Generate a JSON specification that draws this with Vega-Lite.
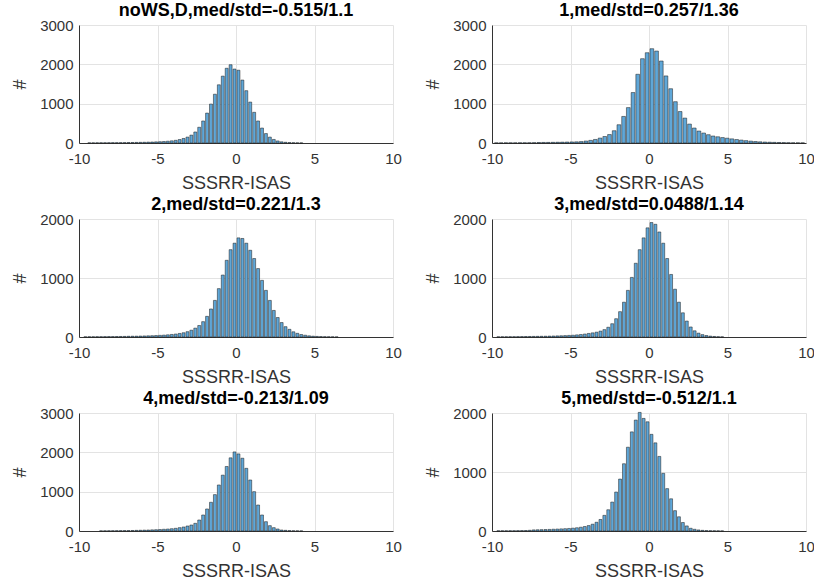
{
  "$schema": "https://vega.github.io/schema/vega-lite/v6.json",
  "padding": {"left": 11, "top": 2, "right": 2, "bottom": 2},
  "background": "#ffffff",
  "datasets": {
    "p1": [
      {"lo":-9.5,"hi":-9.25,"n":4},{"lo":-9.25,"hi":-9,"n":4},{"lo":-9,"hi":-8.75,"n":5},{"lo":-8.75,"hi":-8.5,"n":6},
      {"lo":-8.5,"hi":-8.25,"n":6},{"lo":-8.25,"hi":-8,"n":7},{"lo":-8,"hi":-7.75,"n":8},{"lo":-7.75,"hi":-7.5,"n":8},
      {"lo":-7.5,"hi":-7.25,"n":9},{"lo":-7.25,"hi":-7,"n":10},{"lo":-7,"hi":-6.75,"n":12},{"lo":-6.75,"hi":-6.5,"n":13},
      {"lo":-6.5,"hi":-6.25,"n":15},{"lo":-6.25,"hi":-6,"n":17},{"lo":-6,"hi":-5.75,"n":19},{"lo":-5.75,"hi":-5.5,"n":22},
      {"lo":-5.5,"hi":-5.25,"n":25},{"lo":-5.25,"hi":-5,"n":29},{"lo":-5,"hi":-4.75,"n":33},{"lo":-4.75,"hi":-4.5,"n":38},
      {"lo":-4.5,"hi":-4.25,"n":45},{"lo":-4.25,"hi":-4,"n":55},{"lo":-4,"hi":-3.75,"n":68},{"lo":-3.75,"hi":-3.5,"n":88},
      {"lo":-3.5,"hi":-3.25,"n":115},{"lo":-3.25,"hi":-3,"n":150},{"lo":-3,"hi":-2.75,"n":200},{"lo":-2.75,"hi":-2.5,"n":280},
      {"lo":-2.5,"hi":-2.25,"n":400},{"lo":-2.25,"hi":-2,"n":560},{"lo":-2,"hi":-1.75,"n":760},{"lo":-1.75,"hi":-1.5,"n":990},
      {"lo":-1.5,"hi":-1.25,"n":1240},{"lo":-1.25,"hi":-1,"n":1480},{"lo":-1,"hi":-0.75,"n":1700},{"lo":-0.75,"hi":-0.5,"n":1900},
      {"lo":-0.5,"hi":-0.25,"n":1990},{"lo":-0.25,"hi":0,"n":1880},{"lo":0,"hi":0.25,"n":1850},{"lo":0.25,"hi":0.5,"n":1600},
      {"lo":0.5,"hi":0.75,"n":1330},{"lo":0.75,"hi":1,"n":1040},{"lo":1,"hi":1.25,"n":780},{"lo":1.25,"hi":1.5,"n":560},
      {"lo":1.5,"hi":1.75,"n":380},{"lo":1.75,"hi":2,"n":240},{"lo":2,"hi":2.25,"n":150},{"lo":2.25,"hi":2.5,"n":90},
      {"lo":2.5,"hi":2.75,"n":52},{"lo":2.75,"hi":3,"n":30},{"lo":3,"hi":3.25,"n":18},{"lo":3.25,"hi":3.5,"n":11},
      {"lo":3.5,"hi":3.75,"n":7},{"lo":3.75,"hi":4,"n":4},{"lo":4,"hi":4.25,"n":3}
    ],
    "p2": [
      {"lo":-9.9,"hi":-9.6,"n":3},{"lo":-9.6,"hi":-9.3,"n":3},{"lo":-9.3,"hi":-9,"n":4},{"lo":-9,"hi":-8.7,"n":4},
      {"lo":-8.7,"hi":-8.4,"n":4},{"lo":-8.4,"hi":-8.1,"n":5},{"lo":-8.1,"hi":-7.8,"n":5},{"lo":-7.8,"hi":-7.5,"n":6},
      {"lo":-7.5,"hi":-7.2,"n":8},{"lo":-7.2,"hi":-6.9,"n":12},{"lo":-6.9,"hi":-6.6,"n":14},{"lo":-6.6,"hi":-6.3,"n":15},
      {"lo":-6.3,"hi":-6,"n":17},{"lo":-6,"hi":-5.7,"n":19},{"lo":-5.7,"hi":-5.4,"n":21},{"lo":-5.4,"hi":-5.1,"n":24},
      {"lo":-5.1,"hi":-4.8,"n":27},{"lo":-4.8,"hi":-4.5,"n":30},{"lo":-4.5,"hi":-4.2,"n":36},{"lo":-4.2,"hi":-3.9,"n":50},
      {"lo":-3.9,"hi":-3.6,"n":66},{"lo":-3.6,"hi":-3.3,"n":90},{"lo":-3.3,"hi":-3,"n":125},{"lo":-3,"hi":-2.7,"n":165},
      {"lo":-2.7,"hi":-2.4,"n":215},{"lo":-2.4,"hi":-2.1,"n":312},{"lo":-2.1,"hi":-1.8,"n":464},{"lo":-1.8,"hi":-1.5,"n":675},
      {"lo":-1.5,"hi":-1.2,"n":900},{"lo":-1.2,"hi":-0.9,"n":1283},{"lo":-0.9,"hi":-0.6,"n":1747},{"lo":-0.6,"hi":-0.3,"n":2143},
      {"lo":-0.3,"hi":0,"n":2295},{"lo":0,"hi":0.3,"n":2397},{"lo":0.3,"hi":0.6,"n":2337},{"lo":0.6,"hi":0.9,"n":2084},
      {"lo":0.9,"hi":1.2,"n":1705},{"lo":1.2,"hi":1.5,"n":1380},{"lo":1.5,"hi":1.8,"n":1050},{"lo":1.8,"hi":2.1,"n":800},
      {"lo":2.1,"hi":2.4,"n":633},{"lo":2.4,"hi":2.7,"n":481},{"lo":2.7,"hi":3,"n":380},{"lo":3,"hi":3.3,"n":304},
      {"lo":3.3,"hi":3.6,"n":253},{"lo":3.6,"hi":3.9,"n":211},{"lo":3.9,"hi":4.2,"n":177},{"lo":4.2,"hi":4.5,"n":158},
      {"lo":4.5,"hi":4.8,"n":138},{"lo":4.8,"hi":5.1,"n":122},{"lo":5.1,"hi":5.4,"n":105},{"lo":5.4,"hi":5.7,"n":88},
      {"lo":5.7,"hi":6,"n":74},{"lo":6,"hi":6.3,"n":60},{"lo":6.3,"hi":6.6,"n":48},{"lo":6.6,"hi":6.9,"n":38},
      {"lo":6.9,"hi":7.2,"n":30},{"lo":7.2,"hi":7.5,"n":24},{"lo":7.5,"hi":7.8,"n":20},{"lo":7.8,"hi":8.1,"n":16},
      {"lo":8.1,"hi":8.4,"n":13},{"lo":8.4,"hi":8.7,"n":10},{"lo":8.7,"hi":9,"n":7},{"lo":9,"hi":9.3,"n":5},
      {"lo":9.3,"hi":9.6,"n":4},{"lo":9.6,"hi":9.9,"n":3}
    ],
    "p3": [
      {"lo":-9.75,"hi":-9.5,"n":3},{"lo":-9.5,"hi":-9.25,"n":4},{"lo":-9.25,"hi":-9,"n":4},{"lo":-9,"hi":-8.75,"n":5},
      {"lo":-8.75,"hi":-8.5,"n":5},{"lo":-8.5,"hi":-8.25,"n":6},{"lo":-8.25,"hi":-8,"n":7},{"lo":-8,"hi":-7.75,"n":7},
      {"lo":-7.75,"hi":-7.5,"n":8},{"lo":-7.5,"hi":-7.25,"n":9},{"lo":-7.25,"hi":-7,"n":10},{"lo":-7,"hi":-6.75,"n":12},
      {"lo":-6.75,"hi":-6.5,"n":13},{"lo":-6.5,"hi":-6.25,"n":14},{"lo":-6.25,"hi":-6,"n":16},{"lo":-6,"hi":-5.75,"n":18},
      {"lo":-5.75,"hi":-5.5,"n":20},{"lo":-5.5,"hi":-5.25,"n":22},{"lo":-5.25,"hi":-5,"n":25},{"lo":-5,"hi":-4.75,"n":28},
      {"lo":-4.75,"hi":-4.5,"n":32},{"lo":-4.5,"hi":-4.25,"n":37},{"lo":-4.25,"hi":-4,"n":43},{"lo":-4,"hi":-3.75,"n":50},
      {"lo":-3.75,"hi":-3.5,"n":60},{"lo":-3.5,"hi":-3.25,"n":72},{"lo":-3.25,"hi":-3,"n":90},{"lo":-3,"hi":-2.75,"n":115},
      {"lo":-2.75,"hi":-2.5,"n":150},{"lo":-2.5,"hi":-2.25,"n":195},{"lo":-2.25,"hi":-2,"n":260},{"lo":-2,"hi":-1.75,"n":350},
      {"lo":-1.75,"hi":-1.5,"n":475},{"lo":-1.5,"hi":-1.25,"n":620},{"lo":-1.25,"hi":-1,"n":820},{"lo":-1,"hi":-0.75,"n":1050},
      {"lo":-0.75,"hi":-0.5,"n":1300},{"lo":-0.5,"hi":-0.25,"n":1480},{"lo":-0.25,"hi":0,"n":1590},{"lo":0,"hi":0.25,"n":1680},
      {"lo":0.25,"hi":0.5,"n":1670},{"lo":0.5,"hi":0.75,"n":1590},{"lo":0.75,"hi":1,"n":1470},{"lo":1,"hi":1.25,"n":1330},
      {"lo":1.25,"hi":1.5,"n":1160},{"lo":1.5,"hi":1.75,"n":960},{"lo":1.75,"hi":2,"n":790},{"lo":2,"hi":2.25,"n":620},
      {"lo":2.25,"hi":2.5,"n":450},{"lo":2.5,"hi":2.75,"n":330},{"lo":2.75,"hi":3,"n":245},{"lo":3,"hi":3.25,"n":175},
      {"lo":3.25,"hi":3.5,"n":130},{"lo":3.5,"hi":3.75,"n":88},{"lo":3.75,"hi":4,"n":62},{"lo":4,"hi":4.25,"n":42},
      {"lo":4.25,"hi":4.5,"n":30},{"lo":4.5,"hi":4.75,"n":20},{"lo":4.75,"hi":5,"n":14},{"lo":5,"hi":5.25,"n":10},
      {"lo":5.25,"hi":5.5,"n":7},{"lo":5.5,"hi":5.75,"n":5},{"lo":5.75,"hi":6,"n":4},{"lo":6,"hi":6.25,"n":3},
      {"lo":6.25,"hi":6.5,"n":2}
    ],
    "p4": [
      {"lo":-9.75,"hi":-9.5,"n":3},{"lo":-9.5,"hi":-9.25,"n":4},{"lo":-9.25,"hi":-9,"n":4},{"lo":-9,"hi":-8.75,"n":5},
      {"lo":-8.75,"hi":-8.5,"n":5},{"lo":-8.5,"hi":-8.25,"n":6},{"lo":-8.25,"hi":-8,"n":7},{"lo":-8,"hi":-7.75,"n":8},
      {"lo":-7.75,"hi":-7.5,"n":9},{"lo":-7.5,"hi":-7.25,"n":10},{"lo":-7.25,"hi":-7,"n":11},{"lo":-7,"hi":-6.75,"n":12},
      {"lo":-6.75,"hi":-6.5,"n":13},{"lo":-6.5,"hi":-6.25,"n":15},{"lo":-6.25,"hi":-6,"n":17},{"lo":-6,"hi":-5.75,"n":19},
      {"lo":-5.75,"hi":-5.5,"n":21},{"lo":-5.5,"hi":-5.25,"n":24},{"lo":-5.25,"hi":-5,"n":27},{"lo":-5,"hi":-4.75,"n":30},
      {"lo":-4.75,"hi":-4.5,"n":36},{"lo":-4.5,"hi":-4.25,"n":42},{"lo":-4.25,"hi":-4,"n":50},{"lo":-4,"hi":-3.75,"n":60},
      {"lo":-3.75,"hi":-3.5,"n":70},{"lo":-3.5,"hi":-3.25,"n":82},{"lo":-3.25,"hi":-3,"n":100},{"lo":-3,"hi":-2.75,"n":125},
      {"lo":-2.75,"hi":-2.5,"n":165},{"lo":-2.5,"hi":-2.25,"n":225},{"lo":-2.25,"hi":-2,"n":310},{"lo":-2,"hi":-1.75,"n":430},
      {"lo":-1.75,"hi":-1.5,"n":590},{"lo":-1.5,"hi":-1.25,"n":790},{"lo":-1.25,"hi":-1,"n":1010},{"lo":-1,"hi":-0.75,"n":1250},
      {"lo":-0.75,"hi":-0.5,"n":1480},{"lo":-0.5,"hi":-0.25,"n":1680},{"lo":-0.25,"hi":0,"n":1850},{"lo":0,"hi":0.25,"n":1940},
      {"lo":0.25,"hi":0.5,"n":1910},{"lo":0.5,"hi":0.75,"n":1780},{"lo":0.75,"hi":1,"n":1590},{"lo":1,"hi":1.25,"n":1330},
      {"lo":1.25,"hi":1.5,"n":1060},{"lo":1.5,"hi":1.75,"n":810},{"lo":1.75,"hi":2,"n":590},{"lo":2,"hi":2.25,"n":410},
      {"lo":2.25,"hi":2.5,"n":270},{"lo":2.5,"hi":2.75,"n":170},{"lo":2.75,"hi":3,"n":105},{"lo":3,"hi":3.25,"n":65},
      {"lo":3.25,"hi":3.5,"n":40},{"lo":3.5,"hi":3.75,"n":25},{"lo":3.75,"hi":4,"n":15},{"lo":4,"hi":4.25,"n":9},
      {"lo":4.25,"hi":4.5,"n":5},{"lo":4.5,"hi":4.75,"n":3}
    ],
    "p5": [
      {"lo":-8.75,"hi":-8.5,"n":4},{"lo":-8.5,"hi":-8.25,"n":5},{"lo":-8.25,"hi":-8,"n":6},{"lo":-8,"hi":-7.75,"n":7},
      {"lo":-7.75,"hi":-7.5,"n":8},{"lo":-7.5,"hi":-7.25,"n":9},{"lo":-7.25,"hi":-7,"n":10},{"lo":-7,"hi":-6.75,"n":11},
      {"lo":-6.75,"hi":-6.5,"n":13},{"lo":-6.5,"hi":-6.25,"n":16},{"lo":-6.25,"hi":-6,"n":19},{"lo":-6,"hi":-5.75,"n":22},
      {"lo":-5.75,"hi":-5.5,"n":25},{"lo":-5.5,"hi":-5.25,"n":29},{"lo":-5.25,"hi":-5,"n":33},{"lo":-5,"hi":-4.75,"n":38},
      {"lo":-4.75,"hi":-4.5,"n":44},{"lo":-4.5,"hi":-4.25,"n":50},{"lo":-4.25,"hi":-4,"n":58},{"lo":-4,"hi":-3.75,"n":68},
      {"lo":-3.75,"hi":-3.5,"n":85},{"lo":-3.5,"hi":-3.25,"n":102},{"lo":-3.25,"hi":-3,"n":127},{"lo":-3,"hi":-2.75,"n":152},
      {"lo":-2.75,"hi":-2.5,"n":195},{"lo":-2.5,"hi":-2.25,"n":280},{"lo":-2.25,"hi":-2,"n":407},{"lo":-2,"hi":-1.75,"n":560},
      {"lo":-1.75,"hi":-1.5,"n":730},{"lo":-1.5,"hi":-1.25,"n":925},{"lo":-1.25,"hi":-1,"n":1170},{"lo":-1,"hi":-0.75,"n":1420},
      {"lo":-0.75,"hi":-0.5,"n":1640},{"lo":-0.5,"hi":-0.25,"n":1860},{"lo":-0.25,"hi":0,"n":2010},{"lo":0,"hi":0.25,"n":1960},
      {"lo":0.25,"hi":0.5,"n":1850},{"lo":0.5,"hi":0.75,"n":1593},{"lo":0.75,"hi":1,"n":1297},{"lo":1,"hi":1.25,"n":1000},
      {"lo":1.25,"hi":1.5,"n":661},{"lo":1.5,"hi":1.75,"n":407},{"lo":1.75,"hi":2,"n":237},{"lo":2,"hi":2.25,"n":136},
      {"lo":2.25,"hi":2.5,"n":85},{"lo":2.5,"hi":2.75,"n":51},{"lo":2.75,"hi":3,"n":25},{"lo":3,"hi":3.25,"n":17},
      {"lo":3.25,"hi":3.5,"n":10},{"lo":3.5,"hi":3.75,"n":6},{"lo":3.75,"hi":4,"n":4},{"lo":4,"hi":4.25,"n":3}
    ],
    "p6": [
      {"lo":-9.75,"hi":-9.5,"n":4},{"lo":-9.5,"hi":-9.25,"n":4},{"lo":-9.25,"hi":-9,"n":4},{"lo":-9,"hi":-8.75,"n":5},
      {"lo":-8.75,"hi":-8.5,"n":5},{"lo":-8.5,"hi":-8.25,"n":6},{"lo":-8.25,"hi":-8,"n":7},{"lo":-8,"hi":-7.75,"n":8},
      {"lo":-7.75,"hi":-7.5,"n":12},{"lo":-7.5,"hi":-7.25,"n":19},{"lo":-7.25,"hi":-7,"n":21},{"lo":-7,"hi":-6.75,"n":23},
      {"lo":-6.75,"hi":-6.5,"n":25},{"lo":-6.5,"hi":-6.25,"n":27},{"lo":-6.25,"hi":-6,"n":30},{"lo":-6,"hi":-5.75,"n":33},
      {"lo":-5.75,"hi":-5.5,"n":36},{"lo":-5.5,"hi":-5.25,"n":39},{"lo":-5.25,"hi":-5,"n":43},{"lo":-5,"hi":-4.75,"n":48},
      {"lo":-4.75,"hi":-4.5,"n":55},{"lo":-4.5,"hi":-4.25,"n":64},{"lo":-4.25,"hi":-4,"n":76},{"lo":-4,"hi":-3.75,"n":92},
      {"lo":-3.75,"hi":-3.5,"n":115},{"lo":-3.5,"hi":-3.25,"n":148},{"lo":-3.25,"hi":-3,"n":195},{"lo":-3,"hi":-2.75,"n":265},
      {"lo":-2.75,"hi":-2.5,"n":360},{"lo":-2.5,"hi":-2.25,"n":490},{"lo":-2.25,"hi":-2,"n":660},{"lo":-2,"hi":-1.75,"n":880},
      {"lo":-1.75,"hi":-1.5,"n":1140},{"lo":-1.5,"hi":-1.25,"n":1420},{"lo":-1.25,"hi":-1,"n":1680},{"lo":-1,"hi":-0.75,"n":1880},
      {"lo":-0.75,"hi":-0.5,"n":2010},{"lo":-0.5,"hi":-0.25,"n":1908},{"lo":-0.25,"hi":0,"n":1851},{"lo":0,"hi":0.25,"n":1638},
      {"lo":0.25,"hi":0.5,"n":1494},{"lo":0.5,"hi":0.75,"n":1264},{"lo":0.75,"hi":1,"n":977},{"lo":1,"hi":1.25,"n":718},
      {"lo":1.25,"hi":1.5,"n":546},{"lo":1.5,"hi":1.75,"n":345},{"lo":1.75,"hi":2,"n":241},{"lo":2,"hi":2.25,"n":144},
      {"lo":2.25,"hi":2.5,"n":86},{"lo":2.5,"hi":2.75,"n":46},{"lo":2.75,"hi":3,"n":29},{"lo":3,"hi":3.25,"n":18},
      {"lo":3.25,"hi":3.5,"n":11},{"lo":3.5,"hi":3.75,"n":7},{"lo":3.75,"hi":4,"n":5},{"lo":4,"hi":4.25,"n":4},
      {"lo":4.25,"hi":4.5,"n":3},{"lo":4.5,"hi":4.75,"n":2}
    ]
  },
  "columns": 2,
  "spacing": {"row": 76, "column": 99},
  "bounds": "flush",
  "concat": [
    {
      "title": "noWS,D,med/std=-0.515/1.1",
      "width": 314, "height": 118,
      "data": {"name": "p1"},
      "mark": {"type": "bar"},
      "encoding": {
        "x": {"field": "lo", "type": "quantitative", "bin": {"binned": true}, "scale": {"domain": [-10, 10], "nice": false, "padding": 0}, "axis": {"values": [-10, -5, 0, 5, 10], "grid": true, "labelFlush": false, "labelExpr": "'' + datum.value", "title": "SSSRR-ISAS"}},
        "x2": {"field": "hi"},
        "y": {"field": "n", "type": "quantitative", "scale": {"domain": [0, 3000], "nice": false, "padding": 0}, "axis": {"values": [0, 1000, 2000, 3000], "labelExpr": "'' + datum.value", "title": "#"}}
      }
    },
    {
      "title": "1,med/std=0.257/1.36",
      "width": 314, "height": 118,
      "data": {"name": "p2"},
      "mark": {"type": "bar"},
      "encoding": {
        "x": {"field": "lo", "type": "quantitative", "bin": {"binned": true}, "scale": {"domain": [-10, 10], "nice": false, "padding": 0}, "axis": {"values": [-10, -5, 0, 5, 10], "grid": true, "labelFlush": false, "labelExpr": "'' + datum.value", "title": "SSSRR-ISAS"}},
        "x2": {"field": "hi"},
        "y": {"field": "n", "type": "quantitative", "scale": {"domain": [0, 3000], "nice": false, "padding": 0}, "axis": {"values": [0, 1000, 2000, 3000], "labelExpr": "'' + datum.value", "title": "#"}}
      }
    },
    {
      "title": "2,med/std=0.221/1.3",
      "width": 314, "height": 118,
      "data": {"name": "p3"},
      "mark": {"type": "bar"},
      "encoding": {
        "x": {"field": "lo", "type": "quantitative", "bin": {"binned": true}, "scale": {"domain": [-10, 10], "nice": false, "padding": 0}, "axis": {"values": [-10, -5, 0, 5, 10], "grid": true, "labelFlush": false, "labelExpr": "'' + datum.value", "title": "SSSRR-ISAS"}},
        "x2": {"field": "hi"},
        "y": {"field": "n", "type": "quantitative", "scale": {"domain": [0, 2000], "nice": false, "padding": 0}, "axis": {"values": [0, 1000, 2000], "labelExpr": "'' + datum.value", "title": "#"}}
      }
    },
    {
      "title": "3,med/std=0.0488/1.14",
      "width": 314, "height": 118,
      "data": {"name": "p4"},
      "mark": {"type": "bar"},
      "encoding": {
        "x": {"field": "lo", "type": "quantitative", "bin": {"binned": true}, "scale": {"domain": [-10, 10], "nice": false, "padding": 0}, "axis": {"values": [-10, -5, 0, 5, 10], "grid": true, "labelFlush": false, "labelExpr": "'' + datum.value", "title": "SSSRR-ISAS"}},
        "x2": {"field": "hi"},
        "y": {"field": "n", "type": "quantitative", "scale": {"domain": [0, 2000], "nice": false, "padding": 0}, "axis": {"values": [0, 1000, 2000], "labelExpr": "'' + datum.value", "title": "#"}}
      }
    },
    {
      "title": "4,med/std=-0.213/1.09",
      "width": 314, "height": 118,
      "data": {"name": "p5"},
      "mark": {"type": "bar"},
      "encoding": {
        "x": {"field": "lo", "type": "quantitative", "bin": {"binned": true}, "scale": {"domain": [-10, 10], "nice": false, "padding": 0}, "axis": {"values": [-10, -5, 0, 5, 10], "grid": true, "labelFlush": false, "labelExpr": "'' + datum.value", "title": "SSSRR-ISAS"}},
        "x2": {"field": "hi"},
        "y": {"field": "n", "type": "quantitative", "scale": {"domain": [0, 3000], "nice": false, "padding": 0}, "axis": {"values": [0, 1000, 2000, 3000], "labelExpr": "'' + datum.value", "title": "#"}}
      }
    },
    {
      "title": "5,med/std=-0.512/1.1",
      "width": 314, "height": 118,
      "data": {"name": "p6"},
      "mark": {"type": "bar"},
      "encoding": {
        "x": {"field": "lo", "type": "quantitative", "bin": {"binned": true}, "scale": {"domain": [-10, 10], "nice": false, "padding": 0}, "axis": {"values": [-10, -5, 0, 5, 10], "grid": true, "labelFlush": false, "labelExpr": "'' + datum.value", "title": "SSSRR-ISAS"}},
        "x2": {"field": "hi"},
        "y": {"field": "n", "type": "quantitative", "scale": {"domain": [0, 2000], "nice": false, "padding": 0}, "axis": {"values": [0, 1000, 2000], "labelExpr": "'' + datum.value", "title": "#"}}
      }
    }
  ],
  "config": {
    "font": "Liberation Sans",
    "view": {"stroke": null},
    "bar": {"fill": "#5fa7d8", "stroke": "#1a1a1a", "strokeWidth": 0.6, "strokeOpacity": 0.85},
    "axis": {
      "labelFont": "Liberation Sans", "labelFontSize": 15, "labelColor": "#333333", "labelFlush": false,
      "titleFont": "Liberation Sans", "titleFontSize": 18, "titleFontWeight": "normal", "titleColor": "#333333",
      "domainColor": "#333333", "domainWidth": 1, "gridColor": "#e3e3e3", "gridWidth": 1, "ticks": false
    },
    "axisX": {"labelPadding": 8, "titlePadding": 8},
    "axisY": {"labelPadding": 6, "titlePadding": 10},
    "title": {"font": "Liberation Sans", "fontSize": 18, "fontWeight": "bold", "color": "#000000", "anchor": "middle", "offset": -2}
  }
}
